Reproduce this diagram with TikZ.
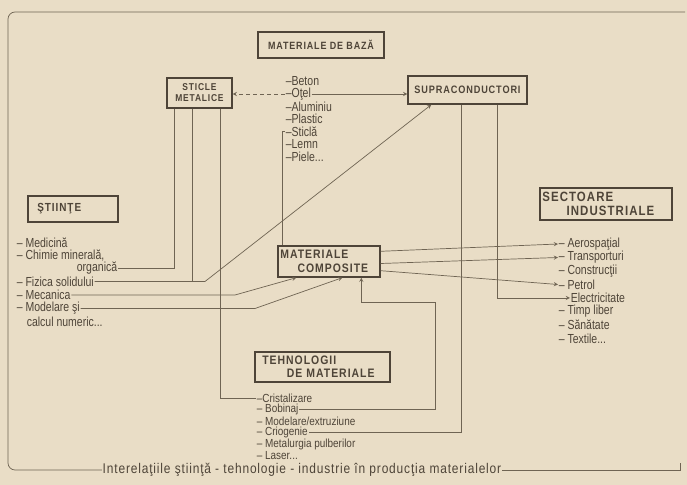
\documentclass[tikz,border=0pt]{standalone}
\usepackage{fontspec}
\setmainfont{Liberation Sans}[FakeStretch=0.8]
\newfontfamily\boxfont{Liberation Sans}[FakeStretch=0.85,LetterSpace=8]
\newfontfamily\capfont{Liberation Sans}[FakeStretch=0.85,LetterSpace=6]
\newfontfamily\techfont{Liberation Sans}[FakeStretch=0.85]
\usetikzlibrary{calc}
\definecolor{paper}{HTML}{E9DDC6}
\definecolor{ink}{HTML}{4E4438}
\definecolor{wire}{HTML}{6F6453}
\begin{document}
\begin{tikzpicture}[x=0.03cm,y=-0.03cm,>=stealth,
  box/.style={draw=ink,line width=1.2pt,fill=paper,text=ink,inner sep=2pt},
  item/.style={anchor=west,text=ink,inner sep=0.5pt,font=\fontsize{11.2}{12}\selectfont},
  tech/.style={item,font=\techfont\fontsize{10}{10}\selectfont},
  wire/.style={draw=wire,line width=0.6pt}]
\fill[paper] (0,0) rectangle (687,485);
\useasboundingbox (0,0) rectangle (687,485);
\node[box,minimum width=3.78cm,minimum height=0.78cm,font=\boxfont\fontsize{9}{10}\selectfont\bfseries] (baza) at (321,45) {MATERIALE DE BAZĂ};
\node[box,minimum width=1.95cm,minimum height=0.9cm,align=center,font=\boxfont\fontsize{8.5}{9.5}\selectfont\bfseries] (sticle) at (199.5,93) {STICLE\\METALICE};
\node[box,minimum width=3.57cm,minimum height=0.84cm,font=\boxfont\fontsize{9.2}{10}\selectfont\bfseries] (supra) at (467.5,90) {SUPRACONDUCTORI};
\node[box,text width=2.56cm,minimum height=0.78cm,align=left,font=\boxfont\fontsize{10}{10}\selectfont\bfseries] (stiinte) at (73,209) {\hspace*{0.6em}ŞTIINŢE};
\node[box,text width=2.92cm,minimum height=0.93cm,align=left,font=\boxfont\fontsize{10.5}{11.5}\selectfont\bfseries] (compos) at (329,261.5) {MATERIALE\\\hspace*{1.4em}COMPOSITE};
\node[box,text width=3.82cm,minimum height=0.96cm,align=left,font=\boxfont\fontsize{11.5}{12}\selectfont\bfseries] (sector) at (606,204) {SECTOARE\\\hspace*{1.8em}INDUSTRIALE};
\node[box,text width=3.91cm,minimum height=0.9cm,align=left,font=\boxfont\fontsize{10.5}{11}\selectfont\bfseries] (tehno) at (322.5,367) {\hspace*{0.4em}TEHNOLOGII\\\hspace*{2.4em}DE MATERIALE};
\node[item] (beton) at (285,81) {–Beton};
\node[item] (otel) at (285,94) {–Oţel};
\node[item] (alum) at (285,106.5) {–Aluminiu};
\node[item] (plastic) at (285,119) {–Plastic};
\node[item] (sticla) at (285,131.5) {–Sticlă};
\node[item] (lemn) at (285,144) {–Lemn};
\node[item] (piele) at (285,156.5) {–Piele...};
\node[item] (medic) at (16,243) {– Medicină};
\node[item] (chimie) at (16,256) {– Chimie minerală,};
\node[item,anchor=east] (organ) at (118,268.5) {organică};
\node[item] (fizica) at (16,281.5) {– Fizica solidului};
\node[item] (mecan) at (16,295) {– Mecanica};
\node[item] (model) at (16,308.5) {– Modelare şi};
\node[item] (calcul) at (26,322) {calcul numeric...};
\node[item] (aero) at (558,244) {– Aerospaţial};
\node[item] (transp) at (558,257.5) {– Transporturi};
\node[item] (constr) at (558,271) {– Construcţii};
\node[item] (petrol) at (558,284.5) {– Petrol};
\node[item] (electr) at (570,298) {Electricitate};
\node[item] (timp) at (558,311.5) {– Timp liber};
\node[item] (sanat) at (558,325) {– Sănătate};
\node[item] (textile) at (558,338.5) {– Textile...};
\node[tech] (cristal) at (256,398) {–Cristalizare};
\node[tech] (bobin) at (256,409.6) {– Bobinaj};
\node[tech] (modext) at (256,421.2) {– Modelare/extruziune};
\node[tech] (criog) at (256,432.8) {– Criogenie};
\node[tech] (metal) at (256,444.4) {– Metalurgia pulberilor};
\node[tech] (laser) at (256,456) {– Laser...};
\node[item,anchor=center,font=\capfont\fontsize{12}{12}\selectfont] (capt) at (302,470) {Interelaţiile ştiinţă - tehnologie - industrie în producţia materialelor};
\draw[wire,rounded corners=6] (capt.west) -| (8,12) -- (685,12);
\draw[wire] (capt.east) -- (680,470) -- (680,463);
\coordinate (s1) at ($(sticle.south west)+(8,0)$);
\coordinate (s2) at ($(sticle.south west)+(26,0)$);
\coordinate (s3) at ($(sticle.south west)+(54,0)$);
\coordinate (u1) at ($(supra.south west)+(54,0)$);
\coordinate (u2) at ($(supra.south west)+(90,0)$);
\coordinate (fz) at (205,281.5);
\coordinate (mc) at (235,295);
\coordinate (md) at (255,308.5);
\coordinate (bb) at (435,302);
\draw[wire,dashed,->] (otel.west) -- (otel.west -| sticle.east);
\draw[wire,->] (otel.east) -- (otel.east -| supra.west);
\draw[wire,dashed] (sticla.west) -- ++(-3,0) coordinate (sq);
\draw[wire] (sq) -- (sq |- compos.north);
\draw[wire] (s1) |- (organ.east);
\draw[wire] (s2) -- (s2 |- fz);
\draw[wire] (s3) |- (cristal.west);
\draw[wire,->] (fizica.east) -- (fz) -- ($(supra.south west)+(24,0)$);
\draw[wire,->] (mecan.east) -- (mc) -- ($(compos.south west)+(19,0)$);
\draw[wire,->] (model.east) -- (md) -- ($(compos.south west)+(65,0)$);
\draw[wire,->] (bobin.east) -| (bb) -| ($(compos.south west)+(84,0)$);
\draw[wire] (u1) |- (criog.east);
\draw[wire,->] (u2) |- (electr.west);
\draw[wire,->] ($(compos.north east)+(0,6)$) -- (aero.west);
\draw[wire,->] ($(compos.east)+(0,2)$) -- (transp.west);
\draw[wire,->] ($(compos.south east)+(0,-7)$) -- (petrol.west);
\end{tikzpicture}
\end{document}
